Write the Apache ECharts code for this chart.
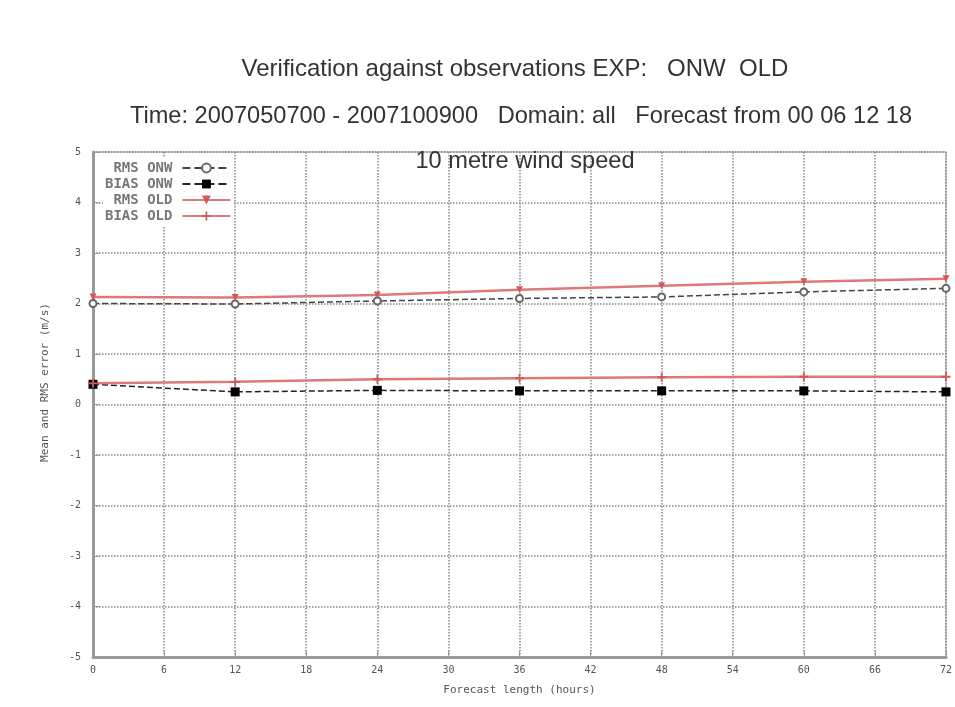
<!DOCTYPE html>
<html>
<head>
<meta charset="utf-8">
<script src="https://cdn.jsdelivr.net/npm/echarts@6/dist/echarts.min.js"></script>
<style>html,body{margin:0;padding:0;background:#fff}#c{width:955px;height:707px}</style>
</head>
<body>
<div id="c"></div>
<script>
const forecastHours = [0, 12, 24, 36, 48, 60, 72];
const rmsONW  = [2.00, 1.99, 2.05, 2.10, 2.13, 2.23, 2.30];
const biasONW = [0.40, 0.25, 0.28, 0.27, 0.27, 0.27, 0.25];
const rmsOLD  = [2.13, 2.12, 2.17, 2.27, 2.35, 2.43, 2.49];
const biasOLD = [0.42, 0.45, 0.50, 0.52, 0.54, 0.55, 0.55];
const seriesNames = ['RMS ONW', 'BIAS ONW', 'RMS OLD', 'BIAS OLD'];
const titleText = 'Verification against observations EXP:   ONW  OLD';
const subTitleText = 'Time: 2007050700 - 2007100900   Domain: all   Forecast from 00 06 12 18';
const panelTitle = '10 metre wind speed';
const xAxisName = 'Forecast length (hours)';
const yAxisName = 'Mean and RMS error (m/s)';

const pairs = (ys) => forecastHours.map((h, i) => [h, ys[i]]);
const plusPath = 'path://M4,0L6,0L6,4L10,4L10,6L6,6L6,10L4,10L4,6L0,6L0,4L4,4Z';
const mono = '"DejaVu Sans Mono", "Liberation Mono", monospace';
const sans = '"Liberation Sans", Arial, sans-serif';

const chart = echarts.init(document.getElementById('c'));
chart.setOption({
  backgroundColor: '#fff',
  animation: false,
  title: [
    { text: titleText, left: 510, top: 52, textAlign: 'center',
      textStyle: { fontFamily: sans, fontSize: 24, fontWeight: 'normal', color: '#333' } },
    { text: subTitleText, left: 516, top: 99, textAlign: 'center',
      textStyle: { fontFamily: sans, fontSize: 23.6, fontWeight: 'normal', color: '#333' } },
    { text: panelTitle, left: 520, top: 144, textAlign: 'center',
      textStyle: { fontFamily: sans, fontSize: 23.6, fontWeight: 'normal', color: '#333' } }
  ],
  legend: {
    orient: 'vertical', left: 103, top: 158, align: 'right',
    itemWidth: 48, itemHeight: 11, itemGap: 0,
    backgroundColor: '#fff', padding: [2, 2, 2, 2],
    textStyle: { fontFamily: mono, fontSize: 14, fontWeight: 'bold', color: '#777', padding: [0, 5, 0, 0], lineHeight: 16 },
    data: seriesNames
  },
  grid: { left: 93, right: 5, top: 152, bottom: 50, show: true, borderColor: '#999', borderWidth: 1 },
  xAxis: {
    type: 'value', min: 0, max: 72, interval: 6,
    name: xAxisName, nameLocation: 'middle', nameGap: 28,
    nameTextStyle: { fontFamily: mono, fontSize: 11, color: '#555' },
    axisLine: { show: true, onZero: false, lineStyle: { color: '#999', width: 3 } },
    axisTick: { show: true, inside: true, length: 6, lineStyle: { color: '#999' } },
    axisLabel: { fontFamily: mono, fontSize: 10, color: '#555', margin: 8 },
    splitLine: { show: true, lineStyle: { color: '#888', type: 'dotted', width: 1.5 } }
  },
  yAxis: {
    type: 'value', min: -5, max: 5, interval: 1,
    name: yAxisName, nameLocation: 'middle', nameGap: 42, nameRotate: 90,
    nameTextStyle: { fontFamily: mono, fontSize: 11, color: '#555', padding: [0, 0, 0, 44] },
    axisLine: { show: true, onZero: false, lineStyle: { color: '#999', width: 3 } },
    axisTick: { show: true, inside: true, length: 6, lineStyle: { color: '#999' } },
    axisLabel: { fontFamily: mono, fontSize: 10, color: '#555', margin: 12 },
    splitLine: { show: true, lineStyle: { color: '#888', type: 'dotted', width: 1.5 } }
  },
  series: [
    { name: seriesNames[0], type: 'line', data: pairs(rmsONW),
      symbol: 'emptyCircle', symbolSize: 7, itemStyle: { color: '#666', borderWidth: 1.5 },
      lineStyle: { color: '#444', type: 'dashed', width: 1.5 } },
    { name: seriesNames[1], type: 'line', data: pairs(biasONW),
      symbol: 'rect', symbolSize: 9, itemStyle: { color: '#000' },
      lineStyle: { color: '#222', type: 'dashed', width: 1.5 } },
    { name: seriesNames[2], type: 'line', data: pairs(rmsOLD),
      symbol: 'triangle', symbolSize: 7, symbolRotate: 180, itemStyle: { color: '#d05a5a' },
      lineStyle: { color: '#e07878', width: 2.5 } },
    { name: seriesNames[3], type: 'line', data: pairs(biasOLD),
      symbol: plusPath, symbolSize: 9, itemStyle: { color: '#d05a5a' },
      lineStyle: { color: '#e07878', width: 2.5 } }
  ]
});
</script>
</body>
</html>
